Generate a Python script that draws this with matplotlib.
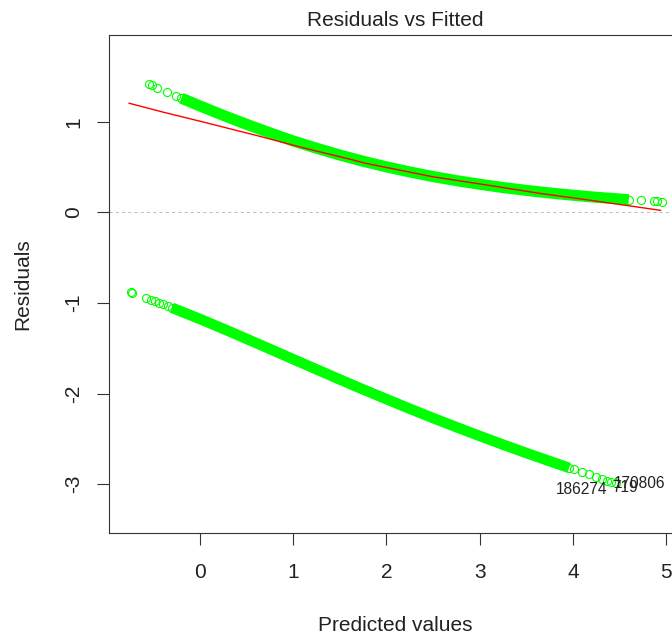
import matplotlib
matplotlib.use("Agg")
import matplotlib.pyplot as plt

# residuals vs fitted

# upper band (observed = 1): single circles at the ends, dense band in the middle
upper_left_fit = [-0.55, -0.52, -0.46, -0.35, -0.26]
upper_left_res = [1.418, 1.405, 1.378, 1.329, 1.290]
upper_band_fit = [-0.2, 0.0, 0.25, 0.5, 0.75, 1.0, 1.25, 1.5, 1.75, 2.0, 2.25,
                  2.5, 2.75, 3.0, 3.25, 3.5, 3.75, 4.0, 4.25, 4.5, 4.6]
upper_band_res = [1.263, 1.177, 1.073, 0.974, 0.880, 0.790, 0.710, 0.635, 0.566,
                  0.504, 0.448, 0.397, 0.352, 0.312, 0.276, 0.244, 0.216, 0.191,
                  0.168, 0.149, 0.141]
upper_right_fit = [4.73, 4.87, 4.90, 4.96]
upper_right_res = [0.133, 0.124, 0.122, 0.118]

# lower band (observed = 0)
lower_left_fit = [-0.74, -0.73, -0.576, -0.53, -0.486, -0.44, -0.394, -0.34]
lower_left_res = [-0.883, -0.887, -0.944, -0.962, -0.979, -0.997, -1.015, -1.037]
lower_band_fit = [-0.3, 0.0, 0.25, 0.5, 0.75, 1.0, 1.25, 1.5, 1.75, 2.0, 2.25,
                  2.5, 2.75, 3.0, 3.25, 3.5, 3.75, 3.96]
lower_band_res = [-1.053, -1.177, -1.285, -1.396, -1.508, -1.621, -1.733, -1.845,
                  -1.955, -2.062, -2.168, -2.271, -2.371, -2.469, -2.564, -2.657,
                  -2.747, -2.821]
lower_right_fit = [4.01, 4.10, 4.17, 4.25, 4.31, 4.37, 4.41, 4.46]
lower_right_res = [-2.838, -2.869, -2.893, -2.920, -2.941, -2.961, -2.974, -2.990]

# lowess smoother (red)
smooth_fit = [-0.76, -0.4, -0.01, 0.63, 1.06, 1.60, 1.78, 2.49, 3.10, 3.64, 4.17, 4.71, 4.94]
smooth_res = [1.207, 1.11, 1.011, 0.845, 0.727, 0.591, 0.543, 0.396, 0.300, 0.212,
              0.138, 0.058, 0.024]

# labelled extreme points
id_labels = ["186274", "719", "170806"]
id_x = [4.367, 4.42, 4.44]
id_y = [-3.055, -3.033, -2.999]
id_ha = ["right", "left", "left"]

xticks = [0, 1, 2, 3, 4, 5]
yticks = [-3, -2, -1, 0, 1]

plt.rcParams["font.family"] = ["Liberation Sans", "DejaVu Sans"]

W, H = 672, 636
fig = plt.figure(figsize=(W / 100, H / 100), dpi=100)
# box: left 109, right 681 (cut off), top 35, bottom 533 (pixels)
ax = fig.add_axes([109 / W, 1 - 533 / H, (681 - 109) / W, (533 - 35) / H])

green = "#00FF00"
ax.axhline(0, color="#BEBEBE", lw=0.75, linestyle=(0, (3, 3)), zorder=1)

ax.plot(upper_band_fit, upper_band_res, color=green, lw=8.0, solid_capstyle="butt", zorder=2)
ax.plot(lower_band_fit, lower_band_res, color=green, lw=7.6, solid_capstyle="butt", zorder=2)
for fx, rx in [(upper_left_fit, upper_left_res), (upper_right_fit, upper_right_res),
               (lower_left_fit, lower_left_res), (lower_right_fit, lower_right_res),
               (upper_band_fit, upper_band_res), (lower_band_fit, lower_band_res)]:
    ax.plot(fx, rx, linestyle="none", marker="o", ms=5.8, mfc="none", mec=green,
            mew=0.8, zorder=2)

ax.plot(smooth_fit, smooth_res, color="#FF0000", lw=1.0, zorder=3)

for lab, x, y, ha in zip(id_labels, id_x, id_y, id_ha):
    ax.text(x, y, lab, ha=ha, va="center", fontsize=11.2, color="#222222", zorder=4)

ax.set_xlim(-0.976, 5.16)
ax.set_ylim(-3.541, 1.961)
ax.set_xticks(xticks)
ax.set_yticks(yticks)
ax.set_xticklabels([str(t) for t in xticks])
ax.set_yticklabels([str(t) for t in yticks], rotation=90, va="center")
ax.tick_params(axis="both", length=8.6, width=0.8, color="#333333",
               labelsize=15, labelcolor="#222222")
ax.tick_params(axis="x", pad=13)
ax.tick_params(axis="y", pad=10)
for s in ax.spines.values():
    s.set_color("#333333")
    s.set_linewidth(0.8)

ax.text(0.5, (533 - 26) / 498, "Residuals vs Fitted", transform=ax.transAxes,
        ha="center", va="baseline", fontsize=15, color="#222222")
fig.text(395 / W, 1 - 631 / H, "Predicted values", ha="center", va="baseline",
         fontsize=15, color="#222222")
fig.text(23 / W, 1 - 284 / H, "Residuals", rotation=90, ha="center", va="center",
         fontsize=15, color="#222222")

fig.savefig("out.png", dpi=100)
